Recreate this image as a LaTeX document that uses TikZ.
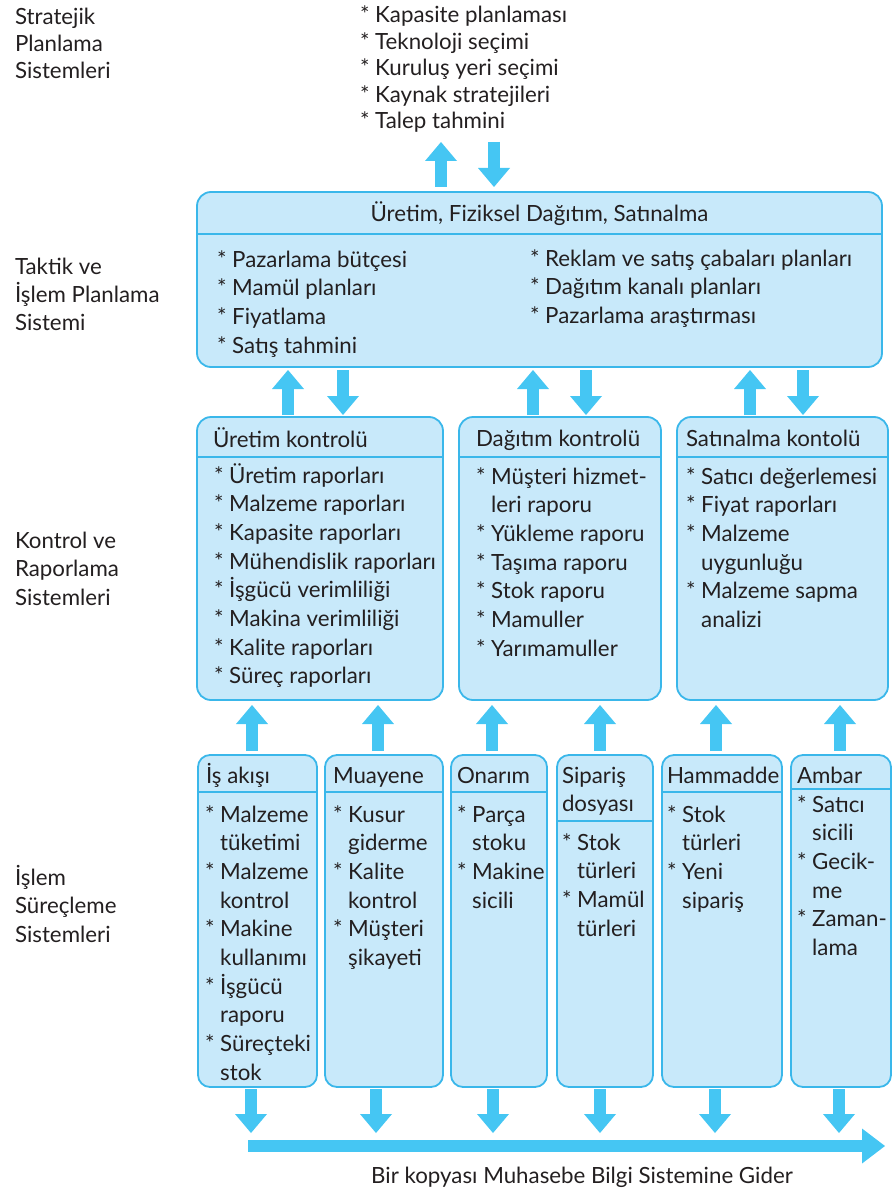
\documentclass[tikz,border=0pt]{standalone}
\usepackage{fontspec}
\setmainfont{Lato}
\usetikzlibrary{arrows.meta}
\definecolor{boxfill}{HTML}{C8E9FA}
\definecolor{boxline}{HTML}{3AB7EA}
\definecolor{arw}{HTML}{45C6F3}
\definecolor{ink}{HTML}{231F20}
\newcommand\fsz{22.3}
\newcommand\bodyfont{\fontsize{\fsz}{28.7}\selectfont}
\newcommand\ind{\hphantom{*}\ }
\newcommand\fstrut{\rule{0pt}{24pt}}

\begin{document}
\begin{tikzpicture}[x=1pt,y=-1pt,
  panel/.style={draw=boxline, fill=boxfill, line width=1.8pt, rounded corners=14pt,
                inner sep=0pt, outer sep=0pt, anchor=north west},
  sep/.style={draw=boxline, line width=1.8pt},
  txt/.style={inner sep=0pt, outer sep=0pt, align=left, text=ink, font=\bodyfont, anchor=north west},
  head/.style={inner sep=0pt, outer sep=0pt, text=ink, font=\bodyfont, anchor=base west},
  blk/.style={draw=arw, line width=12.5pt, -{Triangle[width=32pt,length=19pt,line width=0pt]}},
]
\useasboundingbox (0,0) rectangle (893,1193);

% level labels
\node[txt, font=\fontsize{\fsz}{27}\selectfont] (lv1) at (15,1) {\fstrut Stratejik\\Planlama\\Sistemleri};
\node[txt, font=\fontsize{\fsz}{28}\selectfont] (lv2) at (15,250) {\fstrut Taktik ve\\İşlem Planlama\\Sistemi};
\node[txt, font=\fontsize{\fsz}{28.5}\selectfont] (lv3) at (15,524) {\fstrut Kontrol ve\\Raporlama\\Sistemleri};
\node[txt, font=\fontsize{\fsz}{28.5}\selectfont] (lv4) at (15,861) {\fstrut İşlem\\Süreçleme\\Sistemleri};

% strategic items
\node[txt, font=\fontsize{\fsz}{26.5}\selectfont] (strat) at (360,-1)
  {\fstrut* Kapasite planlaması\\* Teknoloji seçimi\\* Kuruluş yeri seçimi\\* Kaynak stratejileri\\* Talep tahmini};
\coordinate (sp) at (0,142);

% tactical panel
\node[panel, minimum width=685pt, minimum height=175pt] (plan) at (197,192) {};
\draw[sep] (plan.west |- 0,234) -- (plan.east |- 0,234);
\node[head, anchor=base] (plan-h) at (539.5,222) {Üretim, Fiziksel Dağıtım, Satınalma};
\node[txt] (plan-l) at (217,243) {\fstrut* Pazarlama bütçesi\\* Mamül planları\\* Fiyatlama\\* Satış tahmini};
\node[txt] (plan-r) at (530,242) {\fstrut* Reklam ve satış çabaları planları\\* Dağıtım kanalı planları\\* Pazarlama araştırması};

% control panels
\node[panel, minimum width=246pt, minimum height=283pt] (ctlA) at (197,417) {};
\node[panel, minimum width=202pt, minimum height=283pt] (ctlB) at (459,417) {};
\node[panel, minimum width=211pt, minimum height=283pt] (ctlC) at (677,417) {};
\foreach \n in {ctlA,ctlB,ctlC}{\draw[sep] (\n.west |- 0,457) -- (\n.east |- 0,457);}
\node[head] (ctlA-h) at (213,447) {Üretim kontrolü};
\node[head] (ctlB-h) at (476,446) {Dağıtım kontrolü};
\node[head] (ctlC-h) at (686,446) {Satınalma kontolü};
\node[txt] (ctlA-l) at (214,459) {\fstrut* Üretim raporları\\* Malzeme raporları\\* Kapasite raporları\\* Mühendislik raporları\\* İşgücü verimliliği\\* Makina verimliliği\\* Kalite raporları\\* Süreç raporları};
\node[txt] (ctlB-l) at (476,460) {\fstrut* Müşteri hizmet-\\\ind leri raporu\\* Yükleme raporu\\* Taşıma raporu\\* Stok raporu\\* Mamuller\\* Yarımamuller};
\node[txt] (ctlC-l) at (686,460) {\fstrut* Satıcı değerlemesi\\* Fiyat raporları\\* Malzeme\\\ind uygunluğu\\* Malzeme sapma\\\ind analizi};

% transaction panels
\tikzset{tpanel/.style={panel, rounded corners=12pt, minimum height=332pt}}
\node[tpanel, minimum width=119pt] (b1) at (198,755) {};
\node[tpanel, minimum width=118pt] (b2) at (325,755) {};
\node[tpanel, minimum width=96pt] (b3) at (451,755) {};
\node[tpanel, minimum width=96pt] (b4) at (557,755) {};
\node[tpanel, minimum width=120pt] (b5) at (662,755) {};
\node[tpanel, minimum width=100pt] (b6) at (791,755) {};
\foreach \n in {b1,b2,b3,b5}{\draw[sep] (\n.west |- 0,792) -- (\n.east |- 0,792);}
\draw[sep] (b4.west |- 0,821) -- (b4.east |- 0,821);
\draw[sep] (b6.west |- 0,789) -- (b6.east |- 0,789);
\node[head] (b1-h) at (206,783) {İş akışı};
\node[head] (b2-h) at (333,783) {Muayene};
\node[head] (b3-h) at (457,783) {Onarım};
\node[txt] (b4-h) at (562,759) {\fstrut Sipariş\\dosyası};
\node[head] (b5-h) at (667,783) {Hammadde};
\node[head] (b6-h) at (797,783) {Ambar};
\node[txt] (b1-l) at (205,798) {\fstrut* Malzeme\\\ind tüketimi\\* Malzeme\\\ind kontrol\\* Makine\\\ind kullanımı\\* İşgücü\\\ind raporu\\* Süreçteki\\\ind stok};
\node[txt] (b2-l) at (333,798) {\fstrut* Kusur\\\ind giderme\\* Kalite\\\ind kontrol\\* Müşteri\\\ind şikayeti};
\node[txt] (b3-l) at (457,798) {\fstrut* Parça\\\ind stoku\\* Makine\\\ind sicili};
\node[txt] (b4-l) at (562,826) {\fstrut* Stok\\\ind türleri\\* Mamül\\\ind türleri};
\node[txt] (b5-l) at (667,798) {\fstrut* Stok\\\ind türleri\\* Yeni\\\ind sipariş};
\node[txt] (b6-l) at (797,788) {\fstrut* Satıcı\\\ind sicili\\* Gecik-\\\ind me\\* Zaman-\\\ind lama};

% strategic <-> tactical
\draw[blk, shorten <=5pt] (441,0 |- plan.north) -- (441,0 |- sp);
\draw[blk, shorten >=5pt] (494,0 |- sp) -- (494,0 |- plan.north);

% tactical <-> control
\foreach \u/\d/\n in {288/343/ctlA, 533/586/ctlB, 750/803/ctlC}{
  \draw[blk, shorten <=2pt, shorten >=3pt] (\u,0 |- \n.north) -- (\u,0 |- plan.south);
  \draw[blk, shorten <=3pt, shorten >=2pt] (\d,0 |- plan.south) -- (\d,0 |- \n.north);
}

% transaction -> control
\foreach \x/\s/\t in {252/b1/ctlA, 378/b2/ctlA, 492/b3/ctlB, 600/b4/ctlB, 716/b5/ctlC, 840/b6/ctlC}{
  \draw[blk, shorten <=4pt, shorten >=5pt] (\x,0 |- \s.north) -- (\x,0 |- \t.south);
}

% copy to accounting
\coordinate (bus-a) at (248,1146);
\coordinate (bus-b) at (885,1146);
\foreach \x/\s in {251/b1, 376/b2, 493/b3, 600/b4, 715/b5, 839/b6}{
  \draw[blk, shorten <=2pt, shorten >=13pt] (\x,0 |- \s.south) -- (\x,0 |- bus-a);
}
\draw[blk, -{Triangle[width=35pt,length=23pt,line width=0pt]}] (bus-a) -- (bus-b);
\node[head, anchor=base] (note) at (582,1183) {Bir kopyası Muhasebe Bilgi Sistemine Gider};
\end{tikzpicture}
\end{document}
